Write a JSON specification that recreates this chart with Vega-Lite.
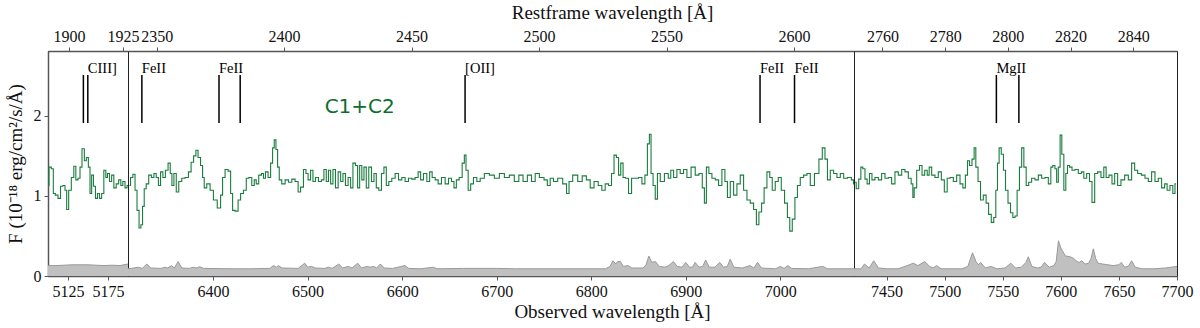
{
  "$schema": "https://vega.github.io/schema/vega-lite/v6.json",
  "background": "white",
  "padding": {"left": 5, "top": 2, "right": 5, "bottom": 5},
  "spacing": 0,
  "bounds": "flush",
  "config": {
    "font": "Liberation Serif",
    "view": {"stroke": "#222222", "strokeWidth": 1},
    "axis": {
      "labelFont": "Liberation Serif", "labelFontSize": 16, "labelColor": "#111111", "format": "d",
      "titleFont": "Liberation Serif", "titleFontSize": 19, "titleFontWeight": "normal", "titleColor": "#111111",
      "domainColor": "#555555", "domainWidth": 1.5, "tickColor": "#555555", "tickSize": 4, "tickWidth": 1,
      "grid": false, "labelFlush": false, "labelOverlap": false, "labelPadding": 3
    }
  },
  "datasets": {
    "flux1": [
      {"w":5100,"f":1.13},{"w":5102.5,"f":1.36},{"w":5105.8,"f":1.34},{"w":5107.5,"f":1.03},{"w":5110.8,"f":1.01},{"w":5114.2,"f":0.97},{"w":5117.1,"f":1.12},{"w":5120,"f":1.13},{"w":5122.5,"f":1.07},{"w":5124.2,"f":0.83},{"w":5127.5,"f":1.07},{"w":5130.8,"f":1.23},{"w":5133.8,"f":1.37},{"w":5135.8,"f":1.2},{"w":5139.2,"f":1.22},{"w":5140.8,"f":1.36},{"w":5144.2,"f":1.59},{"w":5146.7,"f":1.44},{"w":5149.2,"f":1.48},{"w":5151.7,"f":1.36},{"w":5153.3,"f":1.03},{"w":5155.8,"f":1.26},{"w":5157.9,"f":1.12},{"w":5160.8,"f":0.97},{"w":5162.9,"f":1.03},{"w":5165.8,"f":0.97},{"w":5168.3,"f":1.03},{"w":5171.3,"f":1.32},{"w":5173.3,"f":1.23},{"w":5175.4,"f":1.28},{"w":5178.3,"f":1.18},{"w":5180.8,"f":1.26},{"w":5183.8,"f":1.1},{"w":5186.7,"f":1.15},{"w":5190,"f":1.2},{"w":5192.1,"f":1.13},{"w":5195,"f":1.18},{"w":5197.5,"f":1.1},{"w":5200,"f":1.13}
    ],
    "flux2": [
      {"w":6311.5,"f":1.13},{"w":6313.9,"f":1.23},{"w":6316.4,"f":1.27},{"w":6318.5,"f":1.07},{"w":6320.6,"f":0.82},{"w":6322.8,"f":0.6},{"w":6324.5,"f":0.64},{"w":6326.3,"f":0.87},{"w":6328,"f":1.09},{"w":6330.5,"f":1.15},{"w":6333.3,"f":1.26},{"w":6336.2,"f":1.23},{"w":6338.6,"f":1.28},{"w":6341.1,"f":1.23},{"w":6343.2,"f":1.13},{"w":6345.7,"f":1.3},{"w":6348.1,"f":1.23},{"w":6351,"f":1.32},{"w":6353.8,"f":1.41},{"w":6355.6,"f":1.28},{"w":6357.3,"f":1.13},{"w":6359.8,"f":1.28},{"w":6362.3,"f":1.05},{"w":6365.1,"f":1.18},{"w":6368.6,"f":1.22},{"w":6372.1,"f":1.23},{"w":6375.7,"f":1.3},{"w":6377.8,"f":1.42},{"w":6381,"f":1.5},{"w":6382.7,"f":1.57},{"w":6385.5,"f":1.48},{"w":6388,"f":1.38},{"w":6389.8,"f":1.23},{"w":6391.5,"f":1.1},{"w":6395.1,"f":1.15},{"w":6398.6,"f":1.07},{"w":6402.1,"f":0.95},{"w":6406.7,"f":0.85},{"w":6409.2,"f":1.01},{"w":6410.9,"f":1.23},{"w":6414.5,"f":1.33},{"w":6417.3,"f":1.31},{"w":6419.8,"f":1.03},{"w":6421.5,"f":0.82},{"w":6425,"f":0.81},{"w":6427.9,"f":0.95},{"w":6430.3,"f":1.03},{"w":6433.9,"f":1.07},{"w":6436.3,"f":1.22},{"w":6439.2,"f":1.23},{"w":6442.7,"f":1.13},{"w":6444.4,"f":1.2},{"w":6446.9,"f":1.15},{"w":6449.7,"f":1.26},{"w":6452.6,"f":1.28},{"w":6454,"f":1.22},{"w":6456.8,"f":1.3},{"w":6459.6,"f":1.23},{"w":6462.1,"f":1.41},{"w":6463.8,"f":1.6},{"w":6465.6,"f":1.7},{"w":6467.4,"f":1.58},{"w":6469.1,"f":1.36},{"w":6470.9,"f":1.2},{"w":6474.4,"f":1.15},{"w":6478,"f":1.2},{"w":6481.5,"f":1.17},{"w":6485,"f":1.21},{"w":6488.5,"f":1.18},{"w":6491.4,"f":1.05},{"w":6493.8,"f":1.11},{"w":6497.4,"f":1.33},{"w":6499.1,"f":1.28},{"w":6501.9,"f":1.2},{"w":6504.4,"f":1.32},{"w":6506.9,"f":1.18},{"w":6509.7,"f":1.23},{"w":6513.2,"f":1.18},{"w":6516,"f":1.2},{"w":6518.5,"f":1.33},{"w":6521,"f":1.18},{"w":6523.1,"f":1.32},{"w":6525.6,"f":1.15},{"w":6528,"f":1.33},{"w":6530.9,"f":1.1},{"w":6533.7,"f":1.3},{"w":6536.2,"f":1.18},{"w":6538.6,"f":1.28},{"w":6541.4,"f":1.13},{"w":6544.3,"f":1.23},{"w":6546.7,"f":1.1},{"w":6549.2,"f":1.41},{"w":6552,"f":1.38},{"w":6553.8,"f":1.1},{"w":6556.3,"f":1.38},{"w":6558.4,"f":1.2},{"w":6560.8,"f":1.36},{"w":6563.3,"f":1.1},{"w":6566.1,"f":1.36},{"w":6569,"f":1.18},{"w":6571.4,"f":1.28},{"w":6573.9,"f":1.1},{"w":6576.7,"f":1.07},{"w":6579.5,"f":1.28},{"w":6582,"f":1.36},{"w":6584.5,"f":1.13},{"w":6587.3,"f":1.18},{"w":6590.8,"f":1.22},{"w":6594.4,"f":1.28},{"w":6597.9,"f":1.2},{"w":6601.4,"f":1.23},{"w":6604.9,"f":1.18},{"w":6608.5,"f":1.22},{"w":6612,"f":1.21},{"w":6615.5,"f":1.23},{"w":6618.3,"f":1.3},{"w":6620.8,"f":1.2},{"w":6624.3,"f":1.28},{"w":6627.9,"f":1.18},{"w":6630.3,"f":1.3},{"w":6633.2,"f":1.23},{"w":6636.7,"f":1.2},{"w":6639.5,"f":1.15},
      {"w":6643.7,"f":1.23},{"w":6647.3,"f":1.15},{"w":6650.8,"f":1.22},{"w":6653.6,"f":1.18},{"w":6656.1,"f":1.1},{"w":6658.6,"f":1.2},{"w":6662.1,"f":1.23},{"w":6664.9,"f":1.41},{"w":6666.7,"f":1.51},{"w":6668.4,"f":1.32},{"w":6671.3,"f":1.07},{"w":6673.7,"f":1.15},{"w":6677.2,"f":1.23},{"w":6680.8,"f":1.18},{"w":6684.3,"f":1.22},{"w":6689.6,"f":1.28},{"w":6694.9,"f":1.26},{"w":6700.2,"f":1.22},{"w":6705.5,"f":1.28},{"w":6710.8,"f":1.23},{"w":6716,"f":1.26},{"w":6721.3,"f":1.18},{"w":6725.6,"f":1.26},{"w":6730.2,"f":1.18},{"w":6734.7,"f":1.26},{"w":6739,"f":1.18},{"w":6742.5,"f":1.28},{"w":6747.8,"f":1.23},{"w":6752.4,"f":1.2},{"w":6754.8,"f":1.13},{"w":6758.4,"f":1.22},{"w":6761.9,"f":1.18},{"w":6767.2,"f":1.22},{"w":6772.5,"f":1.15},{"w":6775.3,"f":1.03},{"w":6777.8,"f":1.18},{"w":6783.1,"f":1.26},{"w":6788.4,"f":1.18},{"w":6792.6,"f":1.25},{"w":6797.2,"f":1.2},{"w":6800.7,"f":1.1},{"w":6805.3,"f":1.18},{"w":6809.5,"f":1.13},{"w":6813,"f":1.07},{"w":6816.6,"f":1.15},{"w":6820.1,"f":1.13},{"w":6822.9,"f":1.28},{"w":6825.4,"f":1.51},{"w":6827.9,"f":1.48},{"w":6830,"f":1.26},{"w":6832.5,"f":1.41},{"w":6834.9,"f":1.23},{"w":6837.7,"f":1.22},{"w":6841.3,"f":1.03},{"w":6844.1,"f":1.22},{"w":6848.3,"f":1.22},{"w":6851.9,"f":1.23},{"w":6855.4,"f":1.15},{"w":6858.2,"f":1.26},{"w":6860.7,"f":1.65},{"w":6862.4,"f":1.77},{"w":6864.2,"f":1.28},{"w":6866.7,"f":1.13},{"w":6868.8,"f":0.96},{"w":6871.3,"f":1.28},{"w":6874.8,"f":1.18},{"w":6880.1,"f":1.28},{"w":6882.9,"f":1.22},{"w":6885.4,"f":1.32},{"w":6888.9,"f":1.23},{"w":6892.4,"f":1.33},{"w":6895.9,"f":1.28},{"w":6899.5,"f":1.33},{"w":6903,"f":1.23},{"w":6908.3,"f":1.36},{"w":6911.8,"f":1.26},{"w":6916.1,"f":1.28},{"w":6918.9,"f":1.1},{"w":6920.6,"f":0.91},{"w":6923.1,"f":1.36},{"w":6925.9,"f":1.28},{"w":6929.5,"f":1.22},{"w":6933,"f":1.2},{"w":6936.5,"f":1.13},{"w":6940,"f":1.33},{"w":6942.9,"f":1.18},{"w":6945.3,"f":0.98},{"w":6948.9,"f":1.18},{"w":6952.4,"f":1.01},{"w":6955.9,"f":1.15},{"w":6959.4,"f":1.26},{"w":6963,"f":1.07},{"w":6966.5,"f":0.95},{"w":6970,"f":0.91},{"w":6973.5,"f":0.83},{"w":6976,"f":0.64},{"w":6978.8,"f":0.8},{"w":6981.7,"f":0.91},{"w":6984.1,"f":1.1},{"w":6987.7,"f":1.3},{"w":6990.1,"f":1.23},{"w":6992.9,"f":1.07},{"w":6996.5,"f":1.18},{"w":6999.3,"f":1.23},{"w":7002.8,"f":1.07},{"w":7006.3,"f":0.91},{"w":7008.8,"f":0.73},{"w":7011.3,"f":0.56},{"w":7014.1,"f":0.71},{"w":7016.9,"f":0.98},{"w":7019.4,"f":1.13},{"w":7022.9,"f":1.23},{"w":7026.5,"f":1.26},{"w":7030,"f":1.28},{"w":7033.5,"f":1.13},{"w":7038.8,"f":1.28},{"w":7043,"f":1.46},{"w":7045.9,"f":1.6},{"w":7048.7,"f":1.46},{"w":7051.1,"f":1.2},{"w":7054.7,"f":1.32},{"w":7058.2,"f":1.28},{"w":7061.7,"f":1.23},{"w":7065.3,"f":1.28},{"w":7068.8,"f":1.22},{"w":7073.4,"f":1.23},{"w":7076.9,"f":1.2},{"w":7078,"f":1.15}
    ],
    "flux3": [
      {"w":7422.9,"f":1.17},{"w":7424.9,"f":1.09},{"w":7427.2,"f":1.21},{"w":7428.6,"f":1.36},{"w":7430.6,"f":1.34},{"w":7432.3,"f":1.21},{"w":7434.3,"f":1.15},{"w":7436.3,"f":1.28},{"w":7438.6,"f":1.2},{"w":7441.5,"f":1.23},{"w":7444.4,"f":1.2},{"w":7447.2,"f":1.28},{"w":7450.1,"f":1.22},{"w":7453,"f":1.23},{"w":7455.8,"f":1.15},{"w":7458.7,"f":1.3},{"w":7461.6,"f":1.26},{"w":7464.5,"f":1.33},{"w":7467.3,"f":1.3},{"w":7470.2,"f":1.22},{"w":7472.2,"f":1.15},{"w":7473.1,"f":0.98},{"w":7474.5,"f":1.1},{"w":7477.4,"f":1.32},{"w":7479.4,"f":1.38},{"w":7481.7,"f":1.26},{"w":7484,"f":1.32},{"w":7486,"f":1.26},{"w":7487.4,"f":1.36},{"w":7490.3,"f":1.26},{"w":7493.1,"f":1.23},{"w":7496,"f":1.3},{"w":7498.3,"f":1.2},{"w":7501.2,"f":1.05},{"w":7503.2,"f":1.22},{"w":7506.1,"f":1.23},{"w":7508.9,"f":1.18},{"w":7511.8,"f":1.26},{"w":7514.7,"f":1.15},{"w":7516.7,"f":1.1},{"w":7519,"f":1.26},{"w":7520.4,"f":1.44},{"w":7522.4,"f":1.38},{"w":7524.7,"f":1.46},{"w":7526.1,"f":1.6},{"w":7527.6,"f":1.36},{"w":7529.9,"f":1.18},{"w":7531.9,"f":0.95},{"w":7534.7,"f":1.01},{"w":7536.7,"f":0.91},{"w":7539,"f":0.77},{"w":7541.3,"f":0.67},{"w":7543.3,"f":0.73},{"w":7544.8,"f":1.07},{"w":7546.2,"f":1.41},{"w":7547.6,"f":1.6},{"w":7549.9,"f":1.52},{"w":7551.4,"f":1.32},{"w":7553.4,"f":1.07},{"w":7555.7,"f":0.91},{"w":7557.7,"f":0.79},{"w":7559.7,"f":0.73},{"w":7561.4,"f":0.75},{"w":7563.4,"f":1.07},{"w":7565.4,"f":1.36},{"w":7567.2,"f":1.6},{"w":7569.2,"f":1.36},{"w":7571.2,"f":1.13},{"w":7573.5,"f":1.17},{"w":7576.3,"f":1.22},{"w":7579.2,"f":1.2},{"w":7582.1,"f":1.26},{"w":7584.9,"f":1.22},{"w":7587.8,"f":1.23},{"w":7590.7,"f":1.15},{"w":7592.1,"f":1.36},{"w":7594.1,"f":1.38},{"w":7595.8,"f":1.34},{"w":7597,"f":1.17},{"w":7598.7,"f":1.36},{"w":7600.1,"f":1.76},{"w":7601.6,"f":1.52},{"w":7603.6,"f":1.07},{"w":7605,"f":1.28},{"w":7606.5,"f":1.38},{"w":7608.5,"f":1.36},{"w":7610.8,"f":1.32},{"w":7613.6,"f":1.33},{"w":7616.5,"f":1.28},{"w":7618.8,"f":1.3},{"w":7620.8,"f":1.22},{"w":7623.7,"f":1.28},{"w":7625.7,"f":1.18},{"w":7628,"f":0.92},{"w":7630.3,"f":1.28},{"w":7633.1,"f":1.3},{"w":7636,"f":1.23},{"w":7638,"f":1.36},{"w":7640,"f":1.23},{"w":7642.9,"f":1.26},{"w":7645.2,"f":1.15},{"w":7647.5,"f":1.28},{"w":7650.3,"f":1.13},{"w":7653.2,"f":1.2},{"w":7656.7,"f":1.26},{"w":7659.5,"f":1.2},{"w":7662.4,"f":1.41},{"w":7664.7,"f":1.32},{"w":7667.6,"f":1.28},{"w":7671,"f":1.26},{"w":7673.9,"f":1.22},{"w":7676.7,"f":1.18},{"w":7679.6,"f":1.3},{"w":7682.5,"f":1.18},{"w":7685.3,"f":1.22},{"w":7688.2,"f":1.1},{"w":7690.5,"f":1.15},{"w":7692.5,"f":1.07},{"w":7695.4,"f":1.13},{"w":7697.4,"f":1.03},{"w":7699.1,"f":1.15}
    ],
    "noise1": [
      {"w":5100,"n":0.13},{"w":5110,"n":0.13},{"w":5120,"n":0.135},{"w":5130,"n":0.14},{"w":5140,"n":0.14},{"w":5150,"n":0.14},{"w":5160,"n":0.135},{"w":5170,"n":0.13},{"w":5180,"n":0.135},{"w":5190,"n":0.13},{"w":5195,"n":0.14},{"w":5200,"n":0.15}
    ],
    "noise2": [
      {"w":6310,"n":0.09},{"w":6316,"n":0.1},{"w":6321,"n":0.11},{"w":6325,"n":0.095},{"w":6330,"n":0.15},{"w":6334,"n":0.1},{"w":6345,"n":0.095},{"w":6349,"n":0.11},{"w":6352,"n":0.1},{"w":6356,"n":0.13},{"w":6359,"n":0.1},{"w":6363,"n":0.18},{"w":6367,"n":0.1},{"w":6375,"n":0.095},{"w":6379,"n":0.11},{"w":6382,"n":0.1},{"w":6386,"n":0.115},{"w":6390,"n":0.095},{"w":6420,"n":0.09},{"w":6440,"n":0.09},{"w":6460,"n":0.095},{"w":6464,"n":0.13},{"w":6467,"n":0.11},{"w":6469,"n":0.13},{"w":6473,"n":0.1},{"w":6490,"n":0.095},{"w":6497,"n":0.16},{"w":6500,"n":0.11},{"w":6504,"n":0.12},{"w":6508,"n":0.1},{"w":6518,"n":0.095},{"w":6522,"n":0.11},{"w":6526,"n":0.095},{"w":6533,"n":0.15},{"w":6537,"n":0.1},{"w":6543,"n":0.12},{"w":6547,"n":0.1},{"w":6553,"n":0.16},{"w":6557,"n":0.1},{"w":6563,"n":0.12},{"w":6566,"n":0.11},{"w":6570,"n":0.12},{"w":6573,"n":0.1},{"w":6577,"n":0.15},{"w":6581,"n":0.1},{"w":6590,"n":0.095},{"w":6603,"n":0.13},{"w":6607,"n":0.095},{"w":6620,"n":0.09},{"w":6633,"n":0.11},{"w":6637,"n":0.09},{"w":6665,"n":0.095},{"w":6700,"n":0.095},{"w":6720,"n":0.09},{"w":6815,"n":0.09},{"w":6820,"n":0.12},{"w":6823,"n":0.19},{"w":6826,"n":0.15},{"w":6828,"n":0.18},{"w":6831,"n":0.18},{"w":6834,"n":0.12},{"w":6839,"n":0.13},{"w":6843,"n":0.1},{"w":6855,"n":0.1},{"w":6858,"n":0.14},{"w":6861,"n":0.25},{"w":6864,"n":0.17},{"w":6868,"n":0.18},{"w":6872,"n":0.12},{"w":6878,"n":0.11},{"w":6882,"n":0.13},{"w":6887,"n":0.18},{"w":6891,"n":0.12},{"w":6896,"n":0.11},{"w":6900,"n":0.17},{"w":6904,"n":0.11},{"w":6907,"n":0.11},{"w":6910,"n":0.17},{"w":6914,"n":0.11},{"w":6918,"n":0.12},{"w":6921,"n":0.2},{"w":6925,"n":0.11},{"w":6931,"n":0.11},{"w":6936,"n":0.17},{"w":6940,"n":0.11},{"w":6944,"n":0.12},{"w":6947,"n":0.21},{"w":6951,"n":0.11},{"w":6960,"n":0.1},{"w":6968,"n":0.13},{"w":6972,"n":0.1},{"w":6976,"n":0.17},{"w":6980,"n":0.1},{"w":6995,"n":0.09},{"w":7000,"n":0.12},{"w":7004,"n":0.095},{"w":7008,"n":0.13},{"w":7012,"n":0.095},{"w":7030,"n":0.09},{"w":7045,"n":0.12},{"w":7050,"n":0.09},{"w":7078,"n":0.09}
    ],
    "noise3": [
      {"w":7422,"n":0.09},{"w":7428,"n":0.09},{"w":7431,"n":0.15},{"w":7435,"n":0.1},{"w":7439,"n":0.19},{"w":7443,"n":0.1},{"w":7450,"n":0.09},{"w":7460,"n":0.09},{"w":7466,"n":0.12},{"w":7473,"n":0.16},{"w":7477,"n":0.13},{"w":7483,"n":0.18},{"w":7487,"n":0.12},{"w":7490,"n":0.1},{"w":7493,"n":0.13},{"w":7497,"n":0.09},{"w":7515,"n":0.09},{"w":7520,"n":0.12},{"w":7524,"n":0.29},{"w":7527,"n":0.18},{"w":7529,"n":0.14},{"w":7531,"n":0.17},{"w":7535,"n":0.1},{"w":7540,"n":0.12},{"w":7545,"n":0.09},{"w":7552,"n":0.1},{"w":7557,"n":0.16},{"w":7561,"n":0.1},{"w":7566,"n":0.11},{"w":7570,"n":0.17},{"w":7572,"n":0.24},{"w":7575,"n":0.12},{"w":7580,"n":0.1},{"w":7583,"n":0.11},{"w":7586,"n":0.17},{"w":7590,"n":0.11},{"w":7594,"n":0.13},{"w":7596,"n":0.18},{"w":7598,"n":0.44},{"w":7600,"n":0.35},{"w":7602,"n":0.3},{"w":7604,"n":0.25},{"w":7608,"n":0.24},{"w":7611,"n":0.22},{"w":7614,"n":0.18},{"w":7616,"n":0.17},{"w":7618,"n":0.19},{"w":7621,"n":0.15},{"w":7624,"n":0.16},{"w":7626,"n":0.22},{"w":7628,"n":0.34},{"w":7630,"n":0.22},{"w":7632,"n":0.16},{"w":7636,"n":0.15},{"w":7645,"n":0.13},{"w":7650,"n":0.14},{"w":7652,"n":0.17},{"w":7655,"n":0.11},{"w":7658,"n":0.12},{"w":7661,"n":0.19},{"w":7664,"n":0.11},{"w":7670,"n":0.09},{"w":7680,"n":0.09},{"w":7690,"n":0.1},{"w":7695,"n":0.11},{"w":7700,"n":0.12}
    ],
    "lines1": [{"r":1906.68,"t":""},{"r":1908.73,"t":"CIII]"}],
    "lines2": [{"r":2344.21,"t":"FeII"},{"r":2374.46,"t":"FeII"},{"r":2382.77,"t":""},{"r":2470.97,"t":"[OII]"},{"r":2586.65,"t":"FeII"},{"r":2600.17,"t":"FeII"}],
    "lines3": [{"r":2796.35,"t":"MgII"},{"r":2803.53,"t":""}]
  },
  "hconcat": [
    {
      "width": 80, "height": 225,
      "layer": [
        {
          "encoding": {"x": {"field": "w", "type": "quantitative", "scale": {"domain": [5100, 5200], "nice": false, "zero": false}, "axis": {"orient": "bottom", "values": [5125, 5175], "title": null}}},
          "layer": [
            {"data": {"name": "noise1"}, "mark": {"type": "area", "color": "#c0c0c0", "opacity": 1, "clip": true, "line": {"color": "#9a9a9a", "strokeWidth": 1}},
             "encoding": {"y": {"field": "n", "type": "quantitative", "scale": {"domain": [0, 2.81], "nice": false}, "axis": {"orient": "left", "values": [0, 1, 2], "title": "F (10⁻¹⁸ erg/cm²/s/Å)", "titleFontSize": 19, "titlePadding": 8}}}},
            {"data": {"name": "flux1"}, "mark": {"type": "line", "interpolate": "step", "color": "#1a7d3d", "strokeWidth": 1.1, "clip": true},
             "encoding": {"y": {"field": "f", "type": "quantitative", "scale": {"domain": [0, 2.81], "nice": false}, "axis": {"orient": "left", "values": [0, 1, 2], "title": "F (10⁻¹⁸ erg/cm²/s/Å)", "titleFontSize": 19, "titlePadding": 8}}}}
          ]
        },
        {
          "encoding": {"x": {"field": "r", "type": "quantitative", "scale": {"domain": [1890.29, 1927.35], "nice": false, "zero": false}, "axis": {"orient": "top", "values": [1900, 1925], "title": null}}},
          "layer": [
            {"data": {"name": "lines1"}, "mark": {"type": "rule", "color": "black", "strokeWidth": 1.5},
             "encoding": {"y": {"datum": 1.91, "type": "quantitative", "scale": {"domain": [0, 2.81], "nice": false}, "axis": {"orient": "left", "values": [0, 1, 2], "title": "F (10⁻¹⁸ erg/cm²/s/Å)", "titleFontSize": 19, "titlePadding": 8}}, "y2": {"datum": 2.51}}},
            {"data": {"name": "lines1"}, "mark": {"type": "text", "align": "left", "baseline": "alphabetic", "font": "Liberation Serif", "fontSize": 14.5, "color": "black"},
             "encoding": {"y": {"datum": 2.54, "type": "quantitative", "scale": {"domain": [0, 2.81], "nice": false}, "axis": {"orient": "left", "values": [0, 1, 2], "title": "F (10⁻¹⁸ erg/cm²/s/Å)", "titleFontSize": 19, "titlePadding": 8}}, "text": {"field": "t"}}}
          ]
        }
      ],
      "resolve": {"scale": {"x": "independent"}, "axis": {"x": "independent"}}
    },
    {
      "width": 726, "height": 225,
      "layer": [
        {
          "encoding": {"x": {"field": "w", "type": "quantitative", "scale": {"domain": [6310, 7078], "nice": false, "zero": false}, "axis": {"orient": "bottom", "values": [6400, 6500, 6600, 6700, 6800, 6900, 7000], "title": "Observed wavelength  [Å]", "titleX": 484, "titleAnchor": "middle", "titleAlign": "center", "titlePadding": 3}}},
          "layer": [
            {"data": {"name": "noise2"}, "mark": {"type": "area", "color": "#c0c0c0", "opacity": 1, "clip": true, "line": {"color": "#9a9a9a", "strokeWidth": 1}},
             "encoding": {"y": {"field": "n", "type": "quantitative", "scale": {"domain": [0, 2.81], "nice": false}, "axis": null}}},
            {"data": {"name": "flux2"}, "mark": {"type": "line", "interpolate": "step", "color": "#1a7d3d", "strokeWidth": 1.1, "clip": true},
             "encoding": {"y": {"field": "f", "type": "quantitative", "scale": {"domain": [0, 2.81], "nice": false}, "axis": null}}},
            {"data": {"values": [{"w": 6518, "f": 2.11, "t": "C1+C2"}]}, "mark": {"type": "text", "align": "left", "baseline": "middle", "font": "DejaVu Sans", "fontSize": 20, "color": "#0e6e2e"},
             "encoding": {"y": {"field": "f", "type": "quantitative", "scale": {"domain": [0, 2.81], "nice": false}, "axis": null}, "text": {"field": "t"}}}
          ]
        },
        {
          "encoding": {"x": {"field": "r", "type": "quantitative", "scale": {"domain": [2338.77, 2623.5], "nice": false, "zero": false}, "axis": {"orient": "top", "values": [2350, 2400, 2450, 2500, 2550, 2600], "title": "Restframe wavelength  [Å]", "titleX": 484, "titleAnchor": "middle", "titleAlign": "center", "titlePadding": 6}}},
          "layer": [
            {"data": {"name": "lines2"}, "mark": {"type": "rule", "color": "black", "strokeWidth": 1.5},
             "encoding": {"y": {"datum": 1.91, "type": "quantitative", "scale": {"domain": [0, 2.81], "nice": false}, "axis": null}, "y2": {"datum": 2.51}}},
            {"data": {"name": "lines2"}, "mark": {"type": "text", "align": "left", "baseline": "alphabetic", "font": "Liberation Serif", "fontSize": 14.5, "color": "black"},
             "encoding": {"y": {"datum": 2.54, "type": "quantitative", "scale": {"domain": [0, 2.81], "nice": false}, "axis": null}, "text": {"field": "t"}}}
          ]
        }
      ],
      "resolve": {"scale": {"x": "independent"}, "axis": {"x": "independent"}}
    },
    {
      "width": 323, "height": 225,
      "layer": [
        {
          "encoding": {"x": {"field": "w", "type": "quantitative", "scale": {"domain": [7422, 7700], "nice": false, "zero": false}, "axis": {"orient": "bottom", "values": [7450, 7500, 7550, 7600, 7650, 7700], "title": null}}},
          "layer": [
            {"data": {"name": "noise3"}, "mark": {"type": "area", "color": "#c0c0c0", "opacity": 1, "clip": true, "line": {"color": "#9a9a9a", "strokeWidth": 1}},
             "encoding": {"y": {"field": "n", "type": "quantitative", "scale": {"domain": [0, 2.81], "nice": false}, "axis": null}}},
            {"data": {"name": "flux3"}, "mark": {"type": "line", "interpolate": "step", "color": "#1a7d3d", "strokeWidth": 1.1, "clip": true},
             "encoding": {"y": {"field": "f", "type": "quantitative", "scale": {"domain": [0, 2.81], "nice": false}, "axis": null}}}
          ]
        },
        {
          "encoding": {"x": {"field": "r", "type": "quantitative", "scale": {"domain": [2750.93, 2853.97], "nice": false, "zero": false}, "axis": {"orient": "top", "values": [2760, 2780, 2800, 2820, 2840], "title": null}}},
          "layer": [
            {"data": {"name": "lines3"}, "mark": {"type": "rule", "color": "black", "strokeWidth": 1.5},
             "encoding": {"y": {"datum": 1.91, "type": "quantitative", "scale": {"domain": [0, 2.81], "nice": false}, "axis": null}, "y2": {"datum": 2.51}}},
            {"data": {"name": "lines3"}, "mark": {"type": "text", "align": "left", "baseline": "alphabetic", "font": "Liberation Serif", "fontSize": 14.5, "color": "black"},
             "encoding": {"y": {"datum": 2.54, "type": "quantitative", "scale": {"domain": [0, 2.81], "nice": false}, "axis": null}, "text": {"field": "t"}}}
          ]
        }
      ],
      "resolve": {"scale": {"x": "independent"}, "axis": {"x": "independent"}}
    }
  ]
}
